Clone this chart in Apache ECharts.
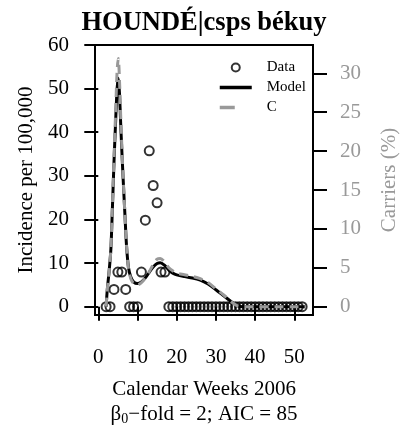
<!DOCTYPE html>
<html>
<head>
<meta charset="utf-8">
<script src="https://cdn.jsdelivr.net/npm/echarts@6/dist/echarts.min.js"></script>
<style>
  html, body { margin: 0; padding: 0; background: #fff; }
  #chart { width: 415px; height: 432px; }
</style>
</head>
<body>
<div id="chart"></div>
<script>
// Weekly observed incidence (per 100,000)
const dataWeeks = [2, 3, 4, 5, 6, 7, 8, 9, 10, 11, 12, 13, 14, 15, 16, 17,
  18, 19, 20, 21, 22, 23, 24, 25, 26, 27, 28, 29, 30, 31, 32, 33, 34, 35,
  36, 37, 38, 39, 40, 41, 42, 43, 44, 45, 46, 47, 48, 49, 50, 51, 52];
const dataIncidence = [0, 0, 3.97, 7.94, 7.94, 3.97, 0, 0, 0, 7.94, 19.85, 35.73, 27.79, 23.82, 7.94, 7.94,
  0, 0, 0, 0, 0, 0, 0, 0, 0, 0, 0, 0, 0, 0, 0, 0, 0, 0,
  0, 0, 0, 0, 0, 0, 0, 0, 0, 0, 0, 0, 0, 0, 0, 0, 0];

// Fitted model curve (incidence) and carriage curve (%), sampled by week
const curveWeeks = [2.0, 2.3, 2.75, 3.2, 3.5, 4.0, 4.4, 4.8, 5.1, 5.4, 5.8, 6.3, 6.8, 7.2, 7.7, 8.3,
  9, 10, 11, 12, 13, 14, 15, 15.8, 17, 18, 19, 20, 22, 24, 26, 28, 30, 32, 34, 35.5, 37, 40, 45, 50, 53];
const modelIncidence = [0, 4, 8, 13, 20, 33, 42, 50, 52.4, 49, 40, 30, 21, 14, 9, 6.8,
  5.7, 5.3, 5.7, 6.6, 7.9, 9.1, 9.9, 10.1, 9.4, 8.4, 7.7, 7.3, 6.9, 6.6, 6.1, 5.2, 3.9, 2.5, 1.1, 0.2, 0, 0, 0, 0, 0];
const carriersPct = [0, 2.2, 4.5, 7.3, 11.5, 19.1, 24.7, 30.3, 31.9, 29.2, 23.3, 17.1, 11.8, 7.9, 4.9, 3.6,
  3.0, 2.8, 3.1, 3.7, 4.5, 5.4, 6.1, 6.2, 5.7, 5.0, 4.6, 4.3, 4.1, 3.9, 3.6, 3.1, 2.3, 1.5, 0.6, 0.1, 0, 0, 0, 0, 0];

// Tick labels
const weekTicks = [0, 10, 20, 30, 40, 50];
const incidenceTicks = [0, 10, 20, 30, 40, 50, 60];
const carrierTicks = [0, 5, 10, 15, 20, 25, 30];

const serif = "'Liberation Serif', 'Times New Roman', serif";
const grey = '#999999';
const noMarker = { color: 'rgba(0,0,0,0)', borderWidth: 0, opacity: 0 };

const chart = echarts.init(document.getElementById('chart'), null, { renderer: 'canvas' });

const zip = (xs, ys) => xs.map((x, i) => [x, ys[i]]);

chart.setOption({
  animation: false,
  backgroundColor: '#fff',
  title: {
    text: 'HOUNDÉ|csps békuy',
    left: 199,
    top: 5,
    textAlign: 'center',
    textStyle: { fontFamily: serif, fontWeight: 'bold', fontSize: 26.5, color: '#000' }
  },
  grid: {
    left: 95, right: 102, top: 45, bottom: 117,
    show: true, borderColor: '#000', borderWidth: 2, backgroundColor: 'transparent'
  },
  legend: {
    orient: 'vertical',
    left: 213, top: 55,
    itemWidth: 32, itemHeight: 8, itemGap: 5,
    textStyle: { fontFamily: serif, fontSize: 15, color: '#000', padding: [0, 0, 0, 10] },
    data: [
      { name: 'Data', icon: 'circle', itemStyle: { color: 'rgba(0,0,0,0)', borderColor: '#000', borderWidth: 2 } },
      { name: 'Model', itemStyle: noMarker, lineStyle: { width: 3.5 } },
      { name: 'C', itemStyle: noMarker, lineStyle: { width: 3.5, type: [15, 20] } }
    ]
  },
  xAxis: {
    type: 'value',
    min: -0.84, max: 54.77,
    axisLine: { show: false },
    splitLine: { show: false },
    axisTick: { show: true, length: 14, lineStyle: { color: '#000', width: 2 }, customValues: weekTicks },
    axisLabel: { customValues: weekTicks, margin: 32, fontFamily: serif, fontSize: 21, color: '#000' },
    name: 'Calendar Weeks 2006\n{b|β}{s|0}{b|−fold = 2; AIC = 85}',
    nameLocation: 'middle',
    nameGap: 62,
    nameTextStyle: {
      fontFamily: serif, fontSize: 21, color: '#000', lineHeight: 25,
      rich: {
        b: { fontFamily: serif, fontSize: 21, color: '#000', lineHeight: 25 },
        s: { fontFamily: serif, fontSize: 14, color: '#000', lineHeight: 14, padding: [10, 0, 0, 0] }
      }
    }
  },
  yAxis: [
    {
      type: 'value',
      position: 'left',
      min: -1.9, max: 60,
      axisLine: { show: false },
      splitLine: { show: false },
      axisTick: { show: true, length: 14, lineStyle: { color: '#000', width: 2 }, customValues: incidenceTicks },
      axisLabel: { customValues: incidenceTicks, margin: 26, fontFamily: serif, fontSize: 21, color: '#000' },
      name: 'Incidence per 100,000',
      nameLocation: 'middle',
      nameRotate: 90,
      nameGap: 58,
      nameTextStyle: { fontFamily: serif, fontSize: 21, color: '#000' }
    },
    {
      type: 'value',
      position: 'right',
      min: -1.07, max: 33.64,
      axisLine: { show: false },
      splitLine: { show: false },
      axisTick: { show: true, length: 14, lineStyle: { color: '#000', width: 2 }, customValues: carrierTicks },
      axisLabel: { customValues: carrierTicks, margin: 27, fontFamily: serif, fontSize: 21, color: grey },
      name: 'Carriers (%)',
      nameLocation: 'middle',
      nameRotate: 90,
      nameGap: 66,
      nameTextStyle: { fontFamily: serif, fontSize: 21, color: grey }
    }
  ],
  series: [
    {
      name: 'Data',
      type: 'scatter',
      yAxisIndex: 0,
      symbol: 'circle',
      symbolSize: 9,
      itemStyle: { color: 'rgba(0,0,0,0)', borderColor: '#000', borderWidth: 2 },
      data: zip(dataWeeks, dataIncidence)
    },
    {
      name: 'Model',
      type: 'line',
      yAxisIndex: 0,
      symbol: 'none',
      smooth: 0.3,
      lineStyle: { color: '#000', width: 3 },
      itemStyle: { color: '#000' },
      data: zip(curveWeeks, modelIncidence)
    },
    {
      name: 'C',
      type: 'line',
      yAxisIndex: 1,
      symbol: 'none',
      smooth: 0.3,
      lineStyle: { color: grey, width: 3, type: [9, 6] },
      itemStyle: { color: grey },
      data: zip(curveWeeks, carriersPct)
    }
  ]
});
</script>
</body>
</html>
